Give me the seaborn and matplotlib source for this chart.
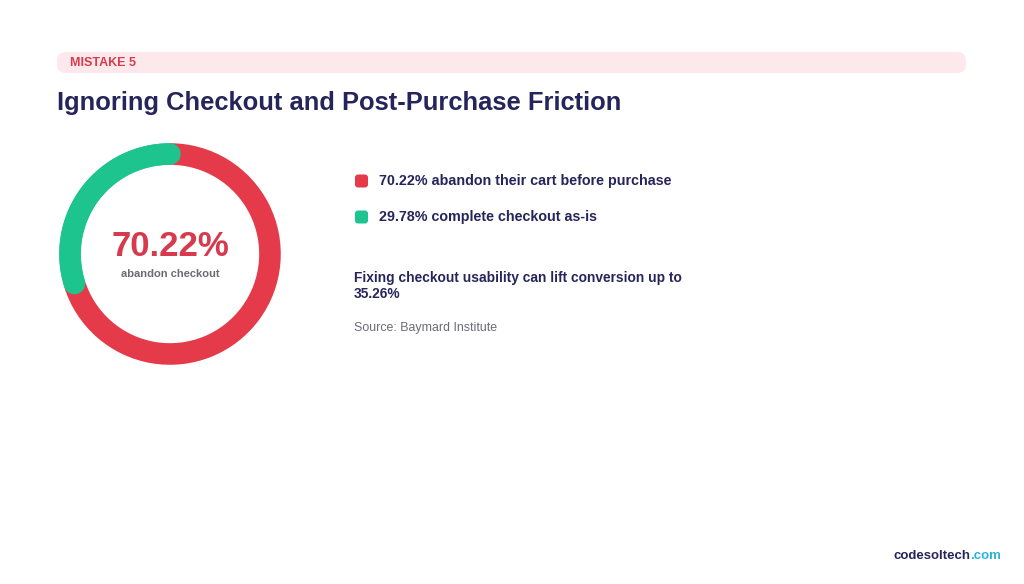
import numpy as np
import matplotlib.pyplot as plt
import seaborn as sns
from matplotlib.patches import FancyBboxPatch

labels = ['complete checkout as-is', 'abandon their cart before purchase']
shares = [29.78, 70.22]
legend_lines = ['70.22% abandon their cart before purchase', '29.78% complete checkout as-is']
center_value = '70.22%'
center_label = 'abandon checkout'
note = 'Fixing checkout usability can lift conversion up to\n35.26%'
source = 'Source: Baymard Institute'

sns.set_theme(style='white')
plt.rcParams['font.family'] = ['Liberation Sans', 'DejaVu Sans']

red = '#e43a49'
green = '#1ec48e'
navy = '#25255c'
gray = '#6b6b75'
colors = sns.color_palette([green, red])

W, H = 1024, 584
fig = plt.figure(figsize=(W / 100, H / 100), dpi=100)
fig.patch.set_facecolor('white')

# page layer in pixel coords
bg = fig.add_axes([0, 0, 1, 1])
bg.set_xlim(0, W)
bg.set_ylim(H, 0)
bg.axis('off')
bg.add_patch(FancyBboxPatch((57, 52), 909, 21, boxstyle='round,pad=0,rounding_size=9',
                            facecolor='#fde9eb', edgecolor='none'))
bg.text(70, 63, 'MISTAKE 5', color='#d93a4c', fontsize=9, fontweight='bold', va='center')
bg.text(57, 103, 'Ignoring Checkout and Post-Purchase Friction', color=navy,
        fontsize=18.4, fontweight='bold', va='center')

# legend entries
for i, (txt, c) in enumerate(zip(legend_lines, [red, green])):
    y = 181 + i * 36
    bg.add_patch(FancyBboxPatch((355, y - 6.5), 13, 13, boxstyle='round,pad=0,rounding_size=3',
                                facecolor=c, edgecolor='none'))
    bg.text(379, y, txt, color=navy, fontsize=10.3, fontweight='bold', va='center')

bg.text(354, 286, note, color=navy, fontsize=9.9, fontweight='bold', va='center',
        linespacing=1.15)
bg.text(354, 328, source, color=gray, fontsize=8.9, va='center')

brand = bg.text(893, 556, 'codesoltech', color=navy, fontsize=9.5, fontweight='bold',
                va='center')
bg.annotate('.com', xy=(1, 0.5), xycoords=brand, color='#2ab3d9', fontsize=9.5,
            fontweight='bold', va='center', ha='left')

# donut
ax = fig.add_axes([57 / W, 1 - 367 / H, 226 / W, 226 / H])
width = 0.195
ax.pie(shares, colors=colors, startangle=90, counterclock=True, radius=1,
       wedgeprops=dict(width=width, edgecolor='none'))
# rounded ends of the green arc
theta = np.radians(np.linspace(90, 90 + shares[0] * 3.6, 100))
r = 1 - width / 2
ax.plot(r * np.cos(theta), r * np.sin(theta), color=green, lw=15.5,
        solid_capstyle='round')
ax.set_xlim(-1.02, 1.02)
ax.set_ylim(-1.02, 1.02)
ax.set_aspect('equal')
ax.axis('off')
ax.text(0, 0.07, center_value, color='#d63a4c', fontsize=25, fontweight='bold',
        ha='center', va='center')
ax.text(0, -0.18, center_label, color=gray, fontsize=8, fontweight='bold',
        ha='center', va='center')

fig.savefig('out.png', dpi=100, facecolor='white')
